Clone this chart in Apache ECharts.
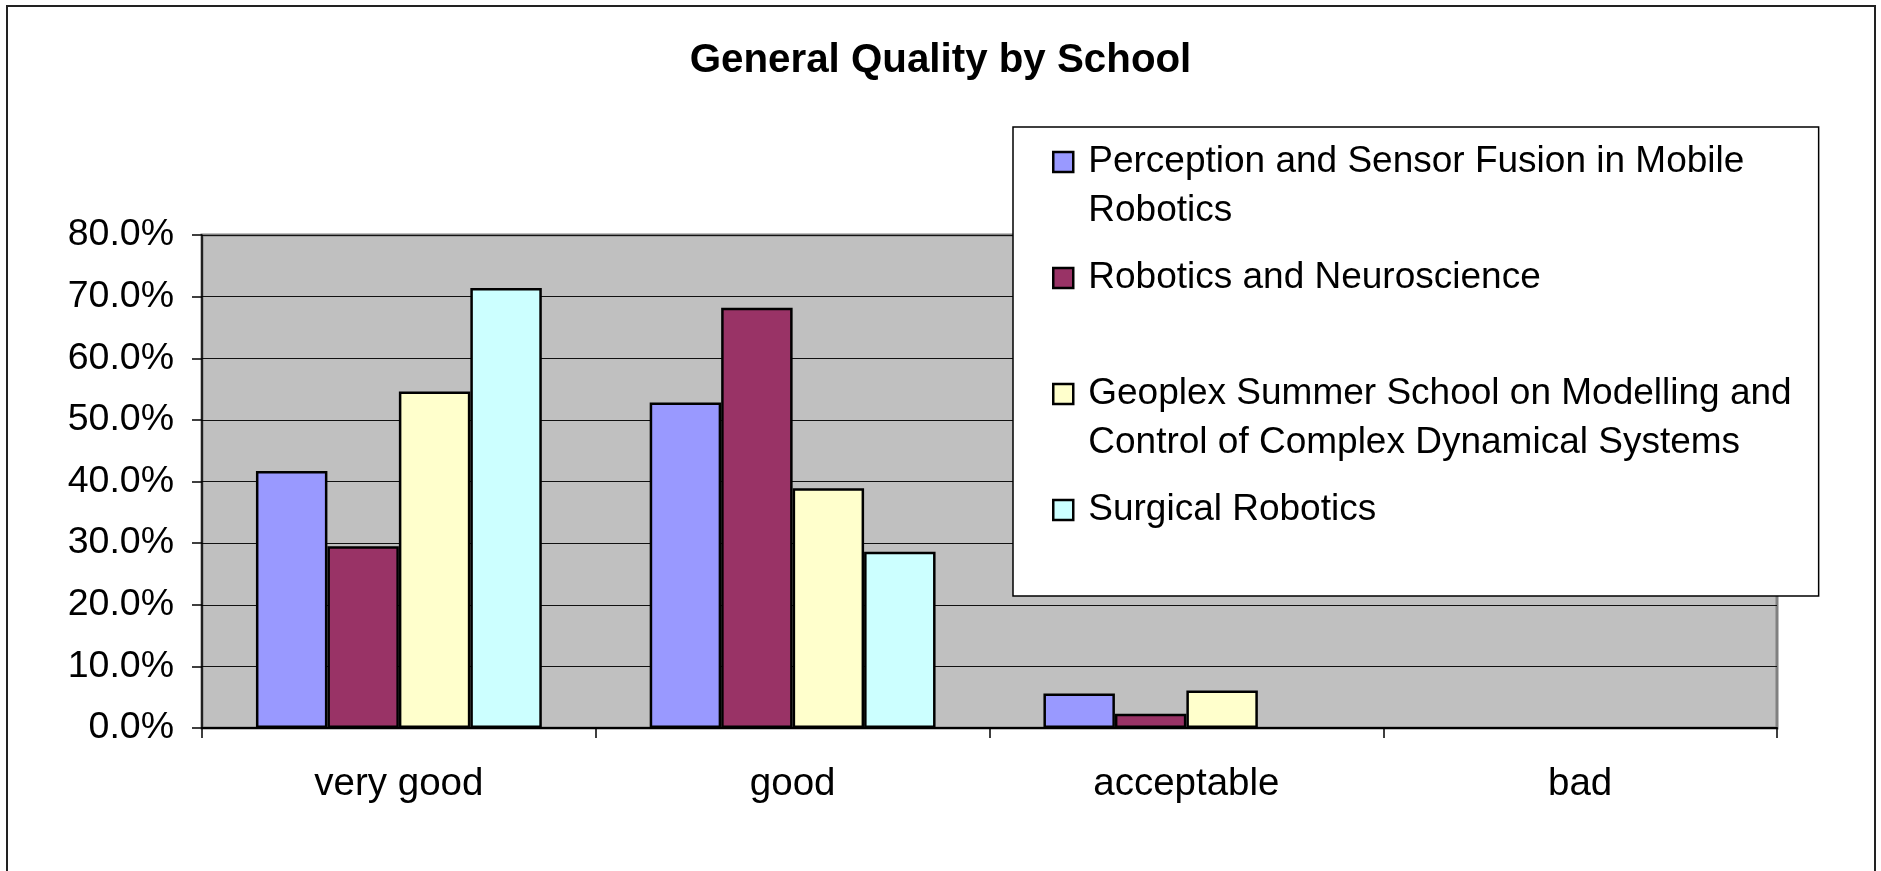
<!DOCTYPE html>
<html>
<head>
<meta charset="utf-8">
<title>General Quality by School</title>
<script src="https://cdn.jsdelivr.net/npm/echarts@6/dist/echarts.min.js"></script>
<style>
  html, body { margin: 0; padding: 0; background: #fff; overflow: hidden; }
  #chart { width: 1881px; height: 871px; }
  /* outer frame of the chart sheet, runs off the bottom edge */
  #frame { position: absolute; left: 6px; top: 5px; width: 1870px; height: 900px;
           border: 2px solid #222; box-sizing: border-box; pointer-events: none; }
</style>
</head>
<body>
<div id="chart"></div>
<div id="frame"></div>
<script>
  // data (percent)
  const categories = ['very good', 'good', 'acceptable', 'bad'];
  const schools = [
    'Perception and Sensor Fusion in Mobile Robotics',
    'Robotics and Neuroscience',
    'Geoplex Summer School on Modelling and Control of Complex Dynamical Systems',
    'Surgical Robotics'
  ];
  // legend text as wrapped in the picture (2 lines per entry)
  const legendLabels = [
    'Perception and Sensor Fusion in Mobile\nRobotics',
    'Robotics and Neuroscience\n ',
    'Geoplex Summer School on Modelling and\nControl of Complex Dynamical Systems',
    'Surgical Robotics\n '
  ];
  const perception   = [41.7, 52.8, 5.6, 0];
  const neuroscience = [29.5, 68.2, 2.3, 0];
  const geoplex      = [54.6, 38.9, 6.1, 0];
  const surgical     = [71.4, 28.6, 0, 0];
  const colors = ['#9999FF', '#993366', '#FFFFCC', '#CCFFFF'];
  const yMax = 80;
  const yStep = 10;

  const font = "'Liberation Sans', Arial, sans-serif";
  let myChart = echarts.init(document.getElementById('chart'));

  const seriesData = [perception, neuroscience, geoplex, surgical];
  let series = seriesData.map(function (d, i) {
    return {
      name: schools[i],
      type: 'bar',
      // empty (0%) bars get no outline, like the original
      data: d.map(function (v) {
        return v === 0 ? { value: v, itemStyle: { borderWidth: 0 } } : v;
      }),
      barGap: '0%',
      barCategoryGap: '27.4%',
      itemStyle: {
        color: colors[i],
        borderColor: '#000',
        borderWidth: 2.5
      }
    };
  });

  let option = {
    animation: false,
    title: {
      text: 'General Quality by School',
      left: 'center',
      top: 36,
      textStyle: { fontFamily: font, fontSize: 40.3, fontWeight: 'bold', color: '#000' }
    },
    legend: {
      data: schools,
      orient: 'vertical',
      left: 1013,
      top: 127,
      padding: [10, 27, 13, 39],
      itemGap: 18,
      itemWidth: 20,
      itemHeight: 68,
      // square on the first text line: the lone moveTo keeps the box 68 tall
      icon: 'path://M0,0L20,0L20,20L0,20Z M0,68',
      backgroundColor: '#fff',
      borderColor: '#000',
      borderWidth: 1.5,
      itemStyle: { borderColor: '#000', borderWidth: 2.5 },
      formatter: function (name) {
        return legendLabels[schools.indexOf(name)];
      },
      textStyle: {
        fontFamily: font,
        fontSize: 37,
        color: '#000',
        lineHeight: 49,
        padding: [0, 0, 0, 10]
      }
    },
    grid: {
      left: 202,
      right: 104,
      top: 235,
      bottom: 143,
      containLabel: false,
      outerBoundsMode: 'none',
      show: true,
      backgroundColor: '#C0C0C0',
      borderColor: '#808080',
      borderWidth: 3
    },
    xAxis: {
      type: 'category',
      data: categories,
      axisLine: { lineStyle: { color: '#000', width: 2 } },
      axisTick: { show: true, length: 10, lineStyle: { color: '#000', width: 1.5 } },
      axisLabel: { margin: 36.5, fontFamily: font, fontSize: 38.5, color: '#000' },
      splitLine: { show: false }
    },
    yAxis: {
      type: 'value',
      min: 0,
      max: yMax,
      interval: yStep,
      axisLine: { show: true, lineStyle: { color: '#000', width: 1.5 } },
      axisTick: { show: true, length: 10, lineStyle: { color: '#000', width: 1.5 } },
      axisLabel: {
        margin: 28,
        fontFamily: font,
        fontSize: 37.5,
        color: '#000',
        formatter: function (v) { return v.toFixed(1) + '%'; }
      },
      splitLine: { show: true, lineStyle: { color: '#111', width: 1.2 } }
    },
    series: series
  };

  myChart.setOption(option);
  window.onresize = myChart.resize;
</script>
</body>
</html>
